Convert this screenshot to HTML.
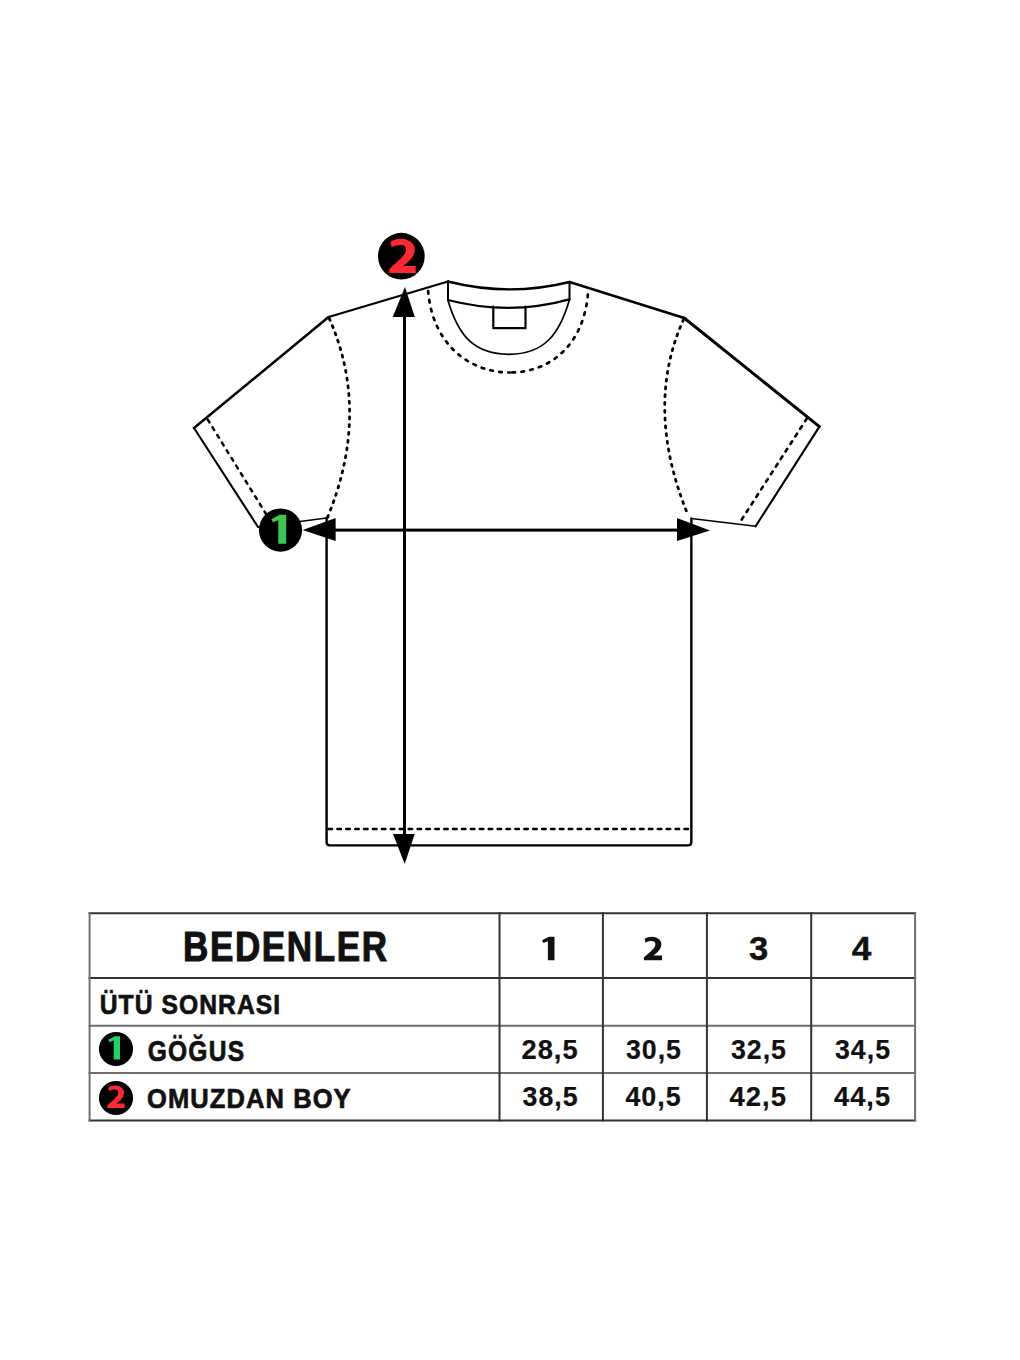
<!DOCTYPE html>
<html><head><meta charset="utf-8">
<style>
html,body{margin:0;padding:0;background:#fff;width:1020px;height:1360px;overflow:hidden}
svg{display:block}
text{font-family:"Liberation Sans",sans-serif;font-weight:bold;fill:#111}
</style></head>
<body>
<svg width="1020" height="1360" viewBox="0 0 1020 1360">
<g fill="none" stroke="#000" stroke-linejoin="round" stroke-linecap="round">
  <path stroke-width="2.3" d="M448 281.5 L328.6 317"/>
  <path stroke-width="2.5" d="M328.6 317 L194 428"/>
  <path stroke-width="2.1" d="M194 428 L258 527"/>
  <path stroke-width="1.6" d="M258 527 L326.6 518"/>
  <path stroke-width="2.4" d="M326.6 518 L326.6 842 Q326.6 845.4 330 845.4 L688 845.4 Q691.35 845.4 691.35 842 L691.35 518.5"/>
  <path stroke-width="1.6" d="M691.35 518.5 L755.6 526.3"/>
  <path stroke-width="2.1" d="M755.6 526.3 L819.4 426.6"/>
  <path stroke-width="3.0" d="M819.4 426.6 L684.2 318"/>
  <path stroke-width="2.5" d="M684.2 318 L569.5 282"/>
  <!-- neck -->
  <path stroke-width="2.4" d="M448 281.5 Q509 297 569.5 282"/>
  <path stroke-width="2" d="M448 281.5 L448 300 M569.5 282 L569.5 299.4"/>
  <path stroke-width="2.2" d="M448 300 Q509 316 569.5 299.4"/>
  <path stroke-width="1.7" d="M448 300.5 C458.5 336 474 354.3 509 354.3 C544 354.3 559.5 334.5 569.5 299.4"/>
  <path stroke-width="2.2" d="M493.3 306.5 L493.3 328.2 L525.5 328.2 L525.5 306.5"/>
</g>
<g fill="none" stroke="#000" stroke-linecap="round">
  <path stroke-width="2.7" stroke-dasharray="2.6 6.4" stroke-dashoffset="-1.5" d="M428 289.5 C432 345 470 372.5 510 372.5 M588 293 C584 345 550 372.5 510 372.5"/>
  <path stroke-width="2.8" stroke-dasharray="2.0 5.8" stroke-dashoffset="-1.5" d="M328.6 317 Q371.4 412 327 518.7"/>
  <path stroke-width="2.8" stroke-dasharray="2.0 5.8" stroke-dashoffset="-1.5" d="M684.2 318 Q643.3 407 688.4 516"/>
  <path stroke-width="2.5" stroke-dasharray="3.2 5.8" stroke-dashoffset="-1.5" d="M207 418.4 L271 522"/>
  <path stroke-width="2.6" stroke-dasharray="3.2 5.8" stroke-dashoffset="-1.5" d="M807.6 417.3 L741.4 520"/>
  <path stroke-width="2.5" stroke-dasharray="3.5 5.4" stroke-dashoffset="-1.5" d="M327 829 L691 829"/>
</g>
<!-- arrows -->
<g fill="#000">
  <rect x="403.0" y="310" width="3.0" height="530"/>
  <polygon points="405,287 392.7,317 414.8,317"/>
  <polygon points="393,834 414.7,834 404.7,864"/>
  <rect x="330" y="528.6" width="352" height="3.0"/>
  <polygon points="302.7,530 335.6,518 335.6,541"/>
  <polygon points="677,518 677,541 710,530.5"/>
</g>
<!-- markers -->
<circle cx="401.35" cy="256.2" r="23.35" fill="#000"/>
<circle cx="280.5" cy="530.05" r="21.6" fill="#000"/>

<!-- table -->
<g fill="none" stroke-width="2" stroke-linecap="square">
  <path stroke="#333" d="M89.6 913.2 H915.1 M89.6 978 H915.1 M89.6 1120.6 H915.1"/>
  <path stroke="#6e6e6e" d="M89.6 1025.8 H915.1 M89.6 1073 H915.1"/>
  <path stroke="#707070" d="M89.6 913.2 V1120.6 M915.1 913.2 V1120.6"/>
  <path stroke="#333" d="M499.5 913.2 V1120.6 M602.9 913.2 V1120.6 M706.9 913.2 V1120.6 M811.2 913.2 V1120.6"/>
</g>
<circle cx="116" cy="1049" r="17.1" fill="#000"/>
<circle cx="116" cy="1098" r="17.1" fill="#000"/>
<path d="M3.9 9.4 C15 3 30 0 42 0 C62 0 78 5 88.5 14.2 C94 19 96.5 25 96.5 31 C96.5 37 95 42 92.3 46.4 C88 54 82 59 75.9 64.5 L53.1 79.5 L100 79.5 L100 100 L0 100 L0 88.3 L41.8 59.1 C50 52 55 48 58.2 44.4 C61.5 40 63.3 36 63.3 30.8 C63.3 22 55 18 42 18 C30 18 17 21 9 24.9 Z" transform="translate(389.3 238.8) scale(0.2640 0.3420)" fill="#ff2832"/>
<path d="M100 0 L100 100 L47 100 L47 19 L11 26 L0 15 L56 0 Z" transform="translate(271.3 514.8) scale(0.1490 0.2890)" fill="#3cc84e"/>
<path d="M100 0 L100 100 L47 100 L47 19 L11 26 L0 15 L56 0 Z" transform="translate(108.2 1036.2) scale(0.1180 0.2320)" fill="#22d160"/>
<path d="M3.9 9.4 C15 3 30 0 42 0 C62 0 78 5 88.5 14.2 C94 19 96.5 25 96.5 31 C96.5 37 95 42 92.3 46.4 C88 54 82 59 75.9 64.5 L53.1 79.5 L100 79.5 L100 100 L0 100 L0 88.3 L41.8 59.1 C50 52 55 48 58.2 44.4 C61.5 40 63.3 36 63.3 30.8 C63.3 22 55 18 42 18 C30 18 17 21 9 24.9 Z" transform="translate(107.5 1085.5) scale(0.1710 0.2250)" fill="#ff2832"/>
<path d="M100 0 L100 100 L47 100 L47 19 L11 26 L0 15 L56 0 Z" transform="translate(542.0 936.8) scale(0.1250 0.2350)" fill="#111"/>
<path d="M3.9 9.4 C15 3 30 0 42 0 C62 0 78 5 88.5 14.2 C94 19 96.5 25 96.5 31 C96.5 37 95 42 92.3 46.4 C88 54 82 59 75.9 64.5 L53.1 79.5 L100 79.5 L100 100 L0 100 L0 88.3 L41.8 59.1 C50 52 55 48 58.2 44.4 C61.5 40 63.3 36 63.3 30.8 C63.3 22 55 18 42 18 C30 18 17 21 9 24.9 Z" transform="translate(643.9 936.8) scale(0.1810 0.2350)" fill="#111"/>
<text transform="translate(182.98 960.6) scale(0.8099 1)" font-size="43.3" letter-spacing="2.0" style="fill:#111;stroke:#111;stroke-width:1.1">BEDENLER</text>
<text transform="translate(99.67 1014) scale(0.8840 1)" font-size="27.9" letter-spacing="1.2" style="fill:#111;stroke:#111;stroke-width:0.7">ÜTÜ SONRASI</text>
<text transform="translate(147.68 1061.3) scale(0.8247 1)" font-size="29.8" letter-spacing="1.5" style="fill:#111;stroke:#111;stroke-width:0.7">GÖĞUS</text>
<text transform="translate(147.07 1108.3) scale(0.9015 1)" font-size="28.3" letter-spacing="1.2" style="fill:#111;stroke:#111;stroke-width:0.7">OMUZDAN BOY</text>
<text transform="translate(748.97 960.3) scale(1.0164 1)" font-size="34" letter-spacing="0" style="fill:#111;stroke:#111;stroke-width:0.4">3</text>
<text transform="translate(851.86 960.3) scale(1.0361 1)" font-size="34" letter-spacing="0" style="fill:#111;stroke:#111;stroke-width:0.4">4</text>
<text transform="translate(521.48 1058.9) scale(1.0031 1)" font-size="27.2" letter-spacing="1.0" style="fill:#111;stroke:#111;stroke-width:0.2">28,5</text>
<text transform="translate(626.03 1058.9) scale(0.9824 1)" font-size="27.2" letter-spacing="1.0" style="fill:#111;stroke:#111;stroke-width:0.2">30,5</text>
<text transform="translate(730.99 1058.9) scale(0.9835 1)" font-size="27.2" letter-spacing="1.0" style="fill:#111;stroke:#111;stroke-width:0.2">32,5</text>
<text transform="translate(835.00 1058.9) scale(0.9835 1)" font-size="27.2" letter-spacing="1.0" style="fill:#111;stroke:#111;stroke-width:0.2">34,5</text>
<text transform="translate(522.51 1106.4) scale(0.9845 1)" font-size="27.2" letter-spacing="1.0" style="fill:#111;stroke:#111;stroke-width:0.2">38,5</text>
<text transform="translate(625.42 1106.4) scale(0.9879 1)" font-size="27.2" letter-spacing="1.0" style="fill:#111;stroke:#111;stroke-width:0.2">40,5</text>
<text transform="translate(729.47 1106.4) scale(1.0120 1)" font-size="27.2" letter-spacing="1.0" style="fill:#111;stroke:#111;stroke-width:0.2">42,5</text>
<text transform="translate(834.01 1106.4) scale(1.0020 1)" font-size="27.2" letter-spacing="1.0" style="fill:#111;stroke:#111;stroke-width:0.2">44,5</text>
</svg>
</body></html>
